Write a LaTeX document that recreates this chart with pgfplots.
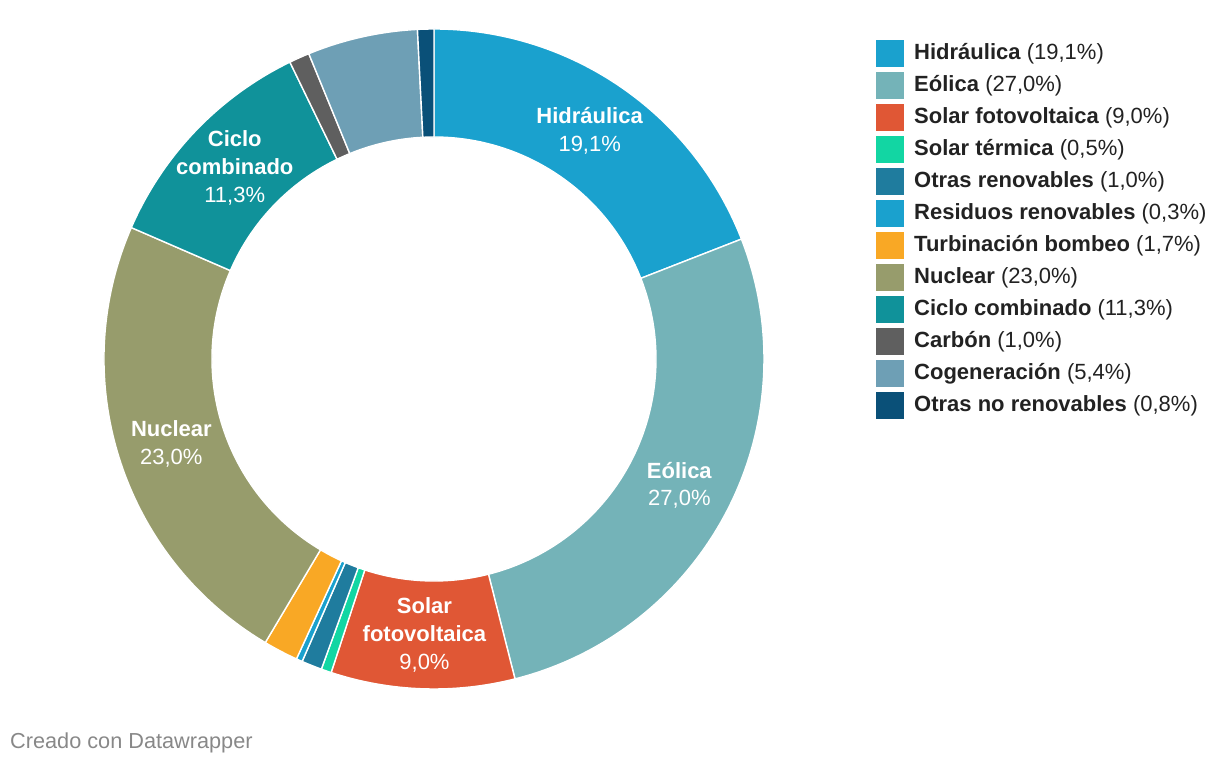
\documentclass[border=0pt]{standalone}
\usepackage{pgfplots}
\pgfplotsset{compat=1.18}
\usepackage{pgfplotstable}
\usepackage{fontspec}
\setmainfont{Liberation Sans}

\definecolor{cHid}{HTML}{1AA1CE}
\definecolor{cEol}{HTML}{74B3B8}
\definecolor{cSfv}{HTML}{E05735}
\definecolor{cSte}{HTML}{12D6A3}
\definecolor{cOre}{HTML}{1F7C9E}
\definecolor{cRes}{HTML}{1AA1CE}
\definecolor{cTur}{HTML}{F9A825}
\definecolor{cNuc}{HTML}{979C6C}
\definecolor{cCic}{HTML}{10929A}
\definecolor{cCar}{HTML}{5F5F5F}
\definecolor{cCog}{HTML}{6E9FB5}
\definecolor{cOnr}{HTML}{0A5078}
\definecolor{legtext}{HTML}{222222}
\definecolor{foot}{HTML}{888888}

\pgfplotstableread[col sep=comma]{
value,color,name
19.1,cHid,Hidráulica
27.0,cEol,Eólica
9.0,cSfv,Solar fotovoltaica
0.5,cSte,Solar térmica
1.0,cOre,Otras renovables
0.3,cRes,Residuos renovables
1.7,cTur,Turbinación bombeo
23.0,cNuc,Nuclear
11.3,cCic,Ciclo combinado
1.0,cCar,Carbón
5.4,cCog,Cogeneración
0.8,cOnr,Otras no renovables
}\energytable

% slice labels (only large slices carry one)
\expandafter\def\csname sL0\endcsname{\textbf{Hidráulica}}
\expandafter\def\csname sL1\endcsname{\textbf{Eólica}}
\expandafter\def\csname sL2\endcsname{\textbf{Solar}\\\textbf{fotovoltaica}}
\expandafter\def\csname sL7\endcsname{\textbf{Nuclear}}
\expandafter\def\csname sL8\endcsname{\textbf{Ciclo}\\\textbf{combinado}}

\def\cX{434}
\def\cY{407}
\def\rO{330}
\def\rI{222}
\def\rM{276}
\pgfkeys{/pgf/number format/.cd,fixed,fixed zerofill,precision=1,use comma,assume math mode=true}

\begin{document}
\begin{tikzpicture}
% --- derive angles from the data ---
\pgfplotstablegetrowsof{\energytable}
\pgfmathtruncatemacro\lastrow{\pgfplotsretval-1}
\gdef\total{0}
\foreach \i in {0,...,\lastrow}{%
  \pgfplotstablegetelem{\i}{value}\of\energytable
  \pgfmathsetmacro\t{\total+\pgfplotsretval}\xdef\total{\t}%
}
\pgfmathsetmacro\degper{360/\total}
\xdef\degper{\degper}
\gdef\cum{0}
\foreach \i in {0,...,\lastrow}{%
  \pgfplotstablegetelem{\i}{value}\of\energytable
  \let\v\pgfplotsretval
  \pgfmathsetmacro\a{90-\cum*\degper}%
  \pgfmathsetmacro\c{\cum+\v}%
  \pgfmathsetmacro\b{90-\c*\degper}%
  \pgfmathsetmacro\m{(\a+\b)/2}%
  \expandafter\xdef\csname sA\i\endcsname{\a}%
  \expandafter\xdef\csname sB\i\endcsname{\b}%
  \expandafter\xdef\csname sV\i\endcsname{\v}%
  \pgfmathsetmacro\xO{\cX+\rO*cos(\a)}\expandafter\xdef\csname xO\i\endcsname{\xO}%
  \pgfmathsetmacro\yO{\cY+\rO*sin(\a)}\expandafter\xdef\csname yO\i\endcsname{\yO}%
  \pgfmathsetmacro\xI{\cX+\rI*cos(\b)}\expandafter\xdef\csname xI\i\endcsname{\xI}%
  \pgfmathsetmacro\yI{\cY+\rI*sin(\b)}\expandafter\xdef\csname yI\i\endcsname{\yI}%
  \pgfmathsetmacro\xM{\cX+\rM*cos(\m)}\expandafter\xdef\csname xM\i\endcsname{\xM}%
  \pgfmathsetmacro\yM{\cY+\rM*sin(\m)}\expandafter\xdef\csname yM\i\endcsname{\yM}%
  \pgfmathsetmacro\yL{766-60-32*\i}\expandafter\xdef\csname yL\i\endcsname{\yL}%
  \pgfmathsetmacro\yQ{766-40-32*\i}\expandafter\xdef\csname yQ\i\endcsname{\yQ}%
  \pgfmathsetmacro\yR{766-67-32*\i}\expandafter\xdef\csname yR\i\endcsname{\yR}%
  \pgfplotstablegetelem{\i}{color}\of\energytable
  \xglobal\colorlet{slice\i}{\pgfplotsretval}%
  \pgfplotstablegetelem{\i}{name}\of\energytable
  \expandafter\xdef\csname sN\i\endcsname{\pgfplotsretval}%
  \xdef\cum{\c}%
}
\begin{axis}[x=1pt,y=1pt,xmin=0,xmax=1220,ymin=0,ymax=766,
  hide axis,clip=false,scale only axis]
% donut slices
\pgfplotsinvokeforeach{0,...,11}{
  \fill[fill=slice#1, draw=white, line width=1.4pt, line join=round]
    (axis cs:\csname xO#1\endcsname,\csname yO#1\endcsname)
    arc[start angle=\csname sA#1\endcsname, end angle=\csname sB#1\endcsname, radius=330pt]
    -- (axis cs:\csname xI#1\endcsname,\csname yI#1\endcsname)
    arc[start angle=\csname sB#1\endcsname, end angle=\csname sA#1\endcsname, radius=222pt]
    -- cycle;
}
% slice labels
\pgfplotsinvokeforeach{0,1,2,7,8}{
  \node[text=white, align=center, inner sep=0pt,
        font=\fontsize{22}{27.7}\selectfont]
    at (axis cs:\csname xM#1\endcsname,\csname yM#1\endcsname)
    {\csname sL#1\endcsname\\\pgfmathprintnumber{\csname sV#1\endcsname}\%};
}
% legend
\pgfplotsinvokeforeach{0,...,11}{
  \fill[slice#1] (axis cs:876,\csname yQ#1\endcsname) rectangle (axis cs:904,\csname yR#1\endcsname);
  \node[anchor=base west, inner sep=0pt, text=legtext, font=\fontsize{22}{24}\selectfont]
    at (axis cs:914,\csname yL#1\endcsname)
    {\textbf{\csname sN#1\endcsname} (\pgfmathprintnumber{\csname sV#1\endcsname}\%)};
}
% footer
\node[anchor=base west, inner sep=0pt, text=foot, font=\fontsize{21.7}{24}\selectfont]
  at (axis cs:10,18) {Creado con Datawrapper};
\end{axis}
\pgfresetboundingbox
\path (current axis.south west) rectangle (current axis.north east);
\end{tikzpicture}
\end{document}
